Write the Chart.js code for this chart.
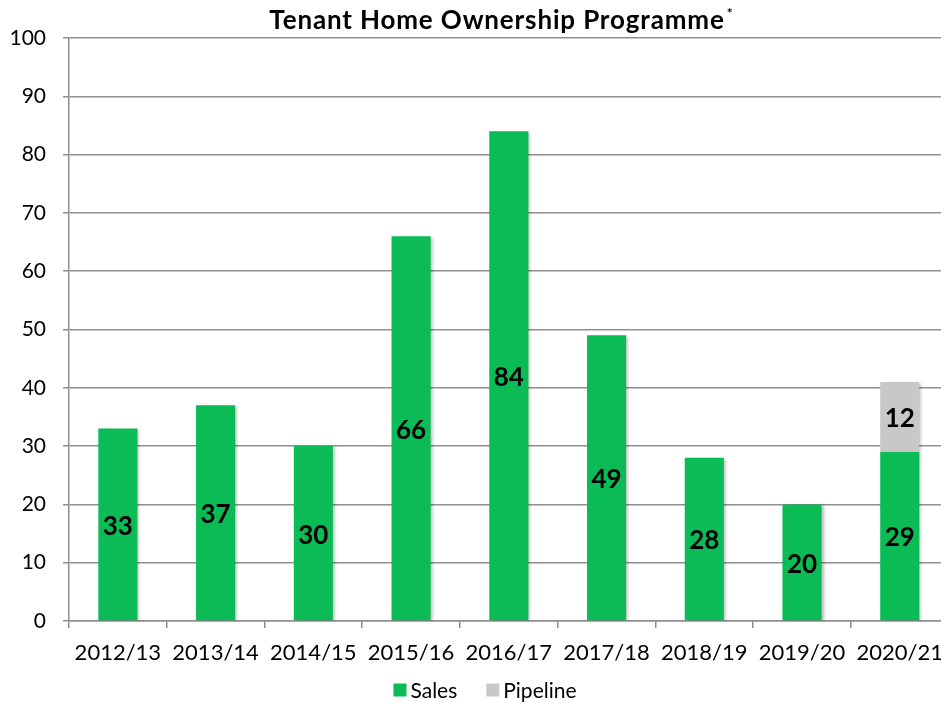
<!DOCTYPE html>
<html>
<head>
<meta charset="utf-8">
<script src="https://cdn.jsdelivr.net/npm/chart.js@4/dist/chart.umd.min.js"></script>
<style>
  html, body { margin: 0; padding: 0; background: #ffffff; overflow: hidden; }
  #outer { width: 941px; height: 702px; overflow: hidden; position: relative; }
  #wrap { width: 955px; height: 702px; position: absolute; left: 0; top: 0; }
</style>
</head>
<body>
<div id="outer"><div id="wrap"><canvas id="c"></canvas></div></div>
<script>
const titleText = "Tenant Home Ownership Programme";
const titleMark = "*";
const categories = ["2012/13", "2013/14", "2014/15", "2015/16", "2016/17", "2017/18", "2018/19", "2019/20", "2020/21"];
const seriesNames = ["Sales", "Pipeline"];
const salesValues = [33, 37, 30, 66, 84, 49, 28, 20, 29];
const pipelineValues = [null, null, null, null, null, null, null, null, 12];
const yTicks = [0, 10, 20, 30, 40, 50, 60, 70, 80, 90, 100];

const FONT = "Lato, 'Open Sans', sans-serif";
const GREEN = "#0bbb55";
const GREY = "#c8c8c8";
const GRID = "#8f8f8f";

const titlePlugin = {
  id: 'customTitle',
  afterDraw(chart) {
    const ctx = chart.ctx;
    ctx.save();
    ctx.fillStyle = '#000';
    ctx.textBaseline = 'alphabetic';
    ctx.textAlign = 'left';
    ctx.font = "bold 26px " + FONT;
    ctx.letterSpacing = "0.85px";
    const w = ctx.measureText(titleText).width;
    ctx.letterSpacing = "0px";
    ctx.font = "bold 14px " + FONT;
    const wm = ctx.measureText(titleMark).width;
    const cx = 501;
    const x0 = cx - (w + wm + 2) / 2;
    ctx.font = "bold 26px " + FONT;
    ctx.letterSpacing = "0.85px";
    ctx.fillText(titleText, x0, 29);
    ctx.letterSpacing = "0px";
    ctx.font = "bold 14px " + FONT;
    ctx.fillText(titleMark, x0 + w + 2, 18);
    ctx.restore();
  }
};

const legendPlugin = {
  id: 'customLegend',
  afterDraw(chart) {
    const ctx = chart.ctx;
    ctx.save();
    ctx.font = "21px " + FONT;
    ctx.textBaseline = 'middle';
    ctx.textAlign = 'left';
    const box = 13, gap = 4, itemGap = 29, cy = 690;
    const items = chart.data.datasets.map(ds => ({ text: ds.label, color: ds.backgroundColor }));
    const widths = items.map(it => box + gap + ctx.measureText(it.text).width);
    const total = widths.reduce((a, b) => a + b, 0) + itemGap * (items.length - 1);
    let x = 485 - total / 2;
    items.forEach((it, i) => {
      ctx.fillStyle = it.color;
      ctx.fillRect(x, cy - box / 2, box, box);
      ctx.fillStyle = '#000';
      ctx.fillText(it.text, x + box + gap, cy + 1);
      x += widths[i] + itemGap;
    });
    ctx.restore();
  }
};

const shadowPlugin = {
  id: 'barShadow',
  beforeDatasetsDraw(chart) {
    const ctx = chart.ctx;
    ctx.save();
    ctx.shadowColor = 'rgba(0,0,0,0.28)';
    ctx.shadowBlur = 3;
    ctx.shadowOffsetX = 2;
    ctx.shadowOffsetY = 1;
  },
  afterDatasetsDraw(chart) {
    chart.ctx.restore();
  }
};

const labelPlugin = {
  id: 'barLabels',
  afterDatasetsDraw(chart) {
    const ctx = chart.ctx;
    ctx.save();
    ctx.shadowColor = 'rgba(0,0,0,0)';
    ctx.fillStyle = '#000';
    ctx.font = "bold 26px " + FONT;
    ctx.textAlign = 'center';
    ctx.textBaseline = 'middle';
    chart.data.datasets.forEach((ds, i) => {
      const meta = chart.getDatasetMeta(i);
      meta.data.forEach((el, j) => {
        const v = ds.data[j];
        if (v === null || v === undefined) return;
        ctx.fillText(String(v), el.x, (el.y + el.base) / 2 + 2);
      });
    });
    ctx.restore();
  }
};

new Chart(document.getElementById('c'), {
  type: 'bar',
  data: {
    labels: categories,
    datasets: [
      { label: seriesNames[0], data: salesValues, backgroundColor: GREEN, borderWidth: 0, stack: 's' },
      { label: seriesNames[1], data: pipelineValues, backgroundColor: GREY, borderWidth: 0, stack: 's' }
    ]
  },
  options: {
    responsive: true,
    maintainAspectRatio: false,
    animation: false,
    devicePixelRatio: 1,
    layout: { padding: { top: 38, right: 0, left: 0, bottom: 31 } },
    datasets: { bar: { barPercentage: 0.4, categoryPercentage: 1.0 } },
    plugins: {
      title: { display: false },
      tooltip: { enabled: false },
      legend: { display: false }
    },
    scales: {
      x: {
        stacked: true,
        grid: { display: true, drawOnChartArea: false, drawTicks: true, tickLength: 7, color: GRID, lineWidth: 1.5, offset: true },
        border: { display: true, color: GRID, width: 1.5 },
        ticks: { font: { family: FONT, size: 22 }, color: '#000', padding: 12, maxRotation: 0, autoSkip: false },
        afterFit(scale) { scale.height = 50; }
      },
      y: {
        stacked: true,
        min: 0,
        max: 100,
        afterBuildTicks(scale) { scale.ticks = yTicks.map(v => ({ value: v })); },
        grid: { color: GRID, lineWidth: 1.5, tickLength: 6, drawTicks: true },
        border: { display: true, color: GRID, width: 1.5 },
        ticks: { font: { family: FONT, size: 21 }, color: '#000', padding: 17 },
        afterFit(scale) { scale.width = 69; }
      }
    }
  },
  plugins: [titlePlugin, shadowPlugin, labelPlugin, legendPlugin]
});
</script>
</body>
</html>
